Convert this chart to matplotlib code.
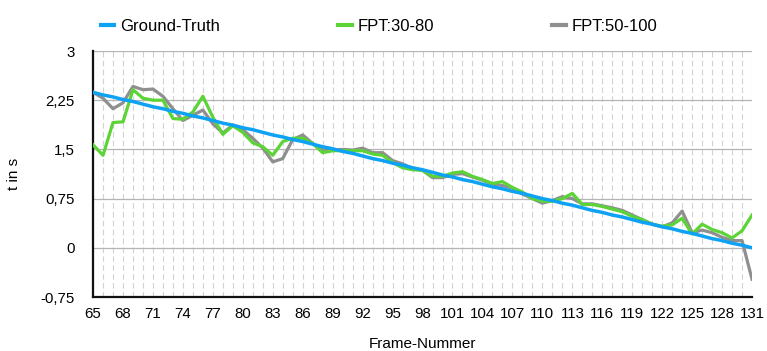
import numpy as np
import matplotlib
matplotlib.use('Agg')
import matplotlib.pyplot as plt
from matplotlib.ticker import MultipleLocator, FixedLocator, FuncFormatter

plt.rcParams['font.family'] = ['Liberation Sans', 'DejaVu Sans']

# Frame numbers 65..131
frames = list(range(65, 132))
x_ticks = list(range(65, 132, 3))

ground_truth = [2.37, 2.33, 2.30, 2.26, 2.23, 2.19, 2.15, 2.12, 2.08, 2.05,
                2.01, 1.98, 1.94, 1.90, 1.87, 1.83, 1.80, 1.76, 1.72, 1.69,
                1.65, 1.62, 1.58, 1.54, 1.51, 1.47, 1.44, 1.40, 1.36, 1.33,
                1.29, 1.26, 1.22, 1.19, 1.15, 1.11, 1.08, 1.04, 1.01, 0.97,
                0.93, 0.90, 0.86, 0.83, 0.79, 0.75, 0.72, 0.68, 0.65, 0.61,
                0.57, 0.54, 0.50, 0.47, 0.43, 0.39, 0.36, 0.32, 0.29, 0.25,
                0.22, 0.18, 0.14, 0.11, 0.07, 0.04, 0.00]

fpt_30_80 = [1.57, 1.41, 1.91, 1.92, 2.41, 2.28, 2.25, 2.25, 1.97, 1.96,
             2.07, 2.31, 1.99, 1.73, 1.86, 1.76, 1.60, 1.54, 1.41, 1.62,
             1.67, 1.67, 1.59, 1.45, 1.48, 1.48, 1.48, 1.48, 1.43, 1.41,
             1.30, 1.22, 1.19, 1.18, 1.09, 1.09, 1.14, 1.16, 1.09, 1.04,
             0.98, 1.01, 0.92, 0.85, 0.75, 0.71, 0.71, 0.75, 0.83, 0.66,
             0.66, 0.63, 0.59, 0.55, 0.48, 0.43, 0.36, 0.33, 0.35, 0.45,
             0.21, 0.36, 0.28, 0.23, 0.15, 0.26, 0.50]

fpt_50_100 = [2.37, 2.28, 2.12, 2.21, 2.46, 2.41, 2.42, 2.31, 2.12, 1.94,
              2.02, 2.10, 1.89, 1.75, 1.87, 1.80, 1.67, 1.52, 1.31, 1.36,
              1.65, 1.72, 1.59, 1.49, 1.49, 1.50, 1.49, 1.52, 1.45, 1.45,
              1.33, 1.28, 1.21, 1.18, 1.07, 1.07, 1.12, 1.13, 1.08, 1.03,
              0.97, 0.95, 0.91, 0.82, 0.75, 0.68, 0.72, 0.78, 0.75, 0.67,
              0.67, 0.64, 0.61, 0.57, 0.50, 0.43, 0.36, 0.32, 0.38, 0.56,
              0.23, 0.27, 0.23, 0.16, 0.11, 0.11, -0.48]

fig = plt.figure(figsize=(7.67, 3.51), dpi=100)
ax = fig.add_axes([0.1213, 0.1538, 0.8592, 0.7009])

ax.plot(frames, fpt_50_100, color='#8f8f8f', lw=2.3, label='FPT:50-100', zorder=3)
ax.plot(frames, fpt_30_80, color='#5cd337', lw=2.3, label='FPT:30-80', zorder=4)
ax.plot(frames, ground_truth, color='#0ea2f4', lw=2.5, label='Ground-Truth', zorder=5)

ax.set_xlim(65, 131)
ax.set_ylim(-0.75, 3)
ax.xaxis.set_major_locator(FixedLocator(x_ticks))
ax.xaxis.set_minor_locator(FixedLocator(frames))
ax.yaxis.set_major_locator(MultipleLocator(0.75))
ax.yaxis.set_major_formatter(FuncFormatter(lambda v, p: '{:g}'.format(round(v, 2)).replace('.', ',')))

ax.grid(axis='y', which='major', color='#b4b4b4', lw=0.9, ls='-')
ax.grid(axis='x', which='both', color='#d2d2d2', lw=0.8, ls=(0, (5, 3)))
ax.set_axisbelow(True)

ax.tick_params(axis='both', which='both', length=0, labelsize=10.8)
ax.tick_params(axis='y', pad=13)
ax.tick_params(axis='x', pad=7)

for s in ['top', 'right']:
    ax.spines[s].set_visible(False)
for s in ['left', 'bottom']:
    ax.spines[s].set_linewidth(1.6)
    ax.spines[s].set_color('#111111')

ax.set_xlabel('Frame-Nummer', fontsize=11, labelpad=12)
ax.set_ylabel('t in s', fontsize=11, labelpad=14)

handles, labels = ax.get_legend_handles_labels()
order = [2, 1, 0]
leg = ax.legend([handles[i] for i in order], [labels[i] for i in order],
                loc='center', bbox_to_anchor=(0.434, 1.10), ncol=3, frameon=False,
                handlelength=0.8, handletextpad=0.35, columnspacing=7.1, fontsize=12)
for h in leg.get_lines():
    h.set_linewidth(3)

fig.savefig('out.png', dpi=100)
